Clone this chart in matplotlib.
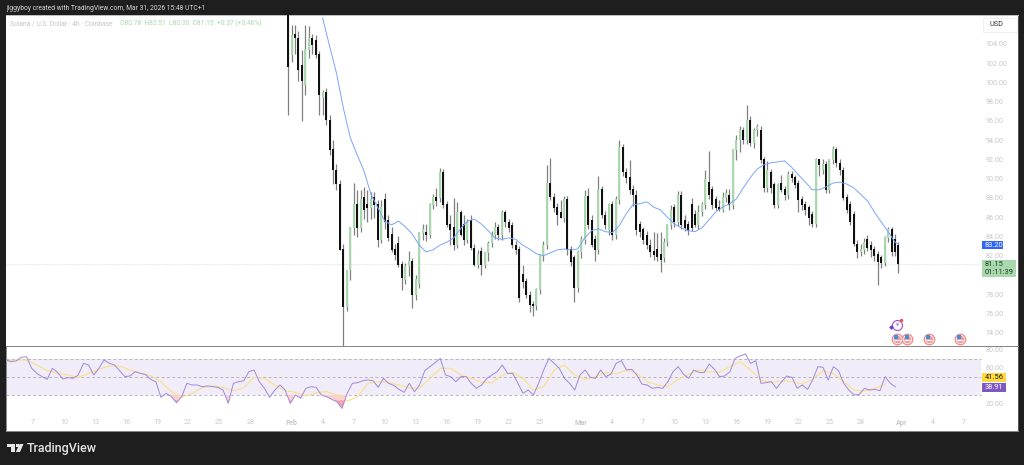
import pandas as pd
import numpy as np
import matplotlib
matplotlib.use('agg')
import matplotlib.pyplot as plt
from matplotlib.patches import Polygon, Rectangle

plt.rcParams['font.family'] = ['Roboto', 'DejaVu Sans']

# price bars at 8h steps
bar_open = [
    107.5, 102.9, 105.0, 104.6, 101.8, 99.7, 103.4, 104.6, 104.4, 102.9,
    98.4, 99.0, 96.1, 93.0, 90.9, 89.4, 82.6, 76.7, 80.5, 84.9,
    87.3, 84.9, 88.1, 87.3, 87.0, 88.1, 87.3, 83.65, 87.8, 85.7,
    84.2, 82.6, 83.3, 81.05, 79.5, 80.9, 81.4, 77.9, 79.1, 84.4,
    84.4, 84.15, 87.3, 88.0, 88.0, 90.7, 87.3, 85.2, 84.9, 83.1,
    86.5, 85.2, 83.65, 85.7, 82.8, 81.05, 82.4, 81.05, 82.3, 83.3,
    84.15, 84.9, 84.15, 86.5, 85.5, 85.1, 83.1, 82.6, 80.0, 79.3,
    77.9, 76.9, 76.8, 78.45, 82.1, 83.1, 89.55, 88.1, 87.0, 86.5,
    85.9, 87.8, 82.6, 81.8, 78.65, 82.4, 83.65, 88.2, 85.7, 83.65,
    82.6, 88.85, 86.2, 84.7, 87.3, 84.15, 87.8, 93.2, 90.7, 90.1,
    88.85, 88.3, 85.2, 84.7, 84.15, 83.1, 82.4, 82.6, 82.1, 81.77,
    83.4, 85.2, 86.97, 85.5, 88.3, 85.7, 85.2, 87.3, 86.25, 85.2,
    86.5, 87.3, 89.65, 88.85, 87.8, 87.0, 86.75, 88.0, 88.3, 87.3,
    93.0, 94.0, 95.05, 94.0, 96.1, 93.7, 95.05, 95.05, 91.95, 89.0,
    90.7, 89.35, 87.3, 89.55, 88.85, 88.3, 90.4, 90.1, 89.55, 87.8,
    87.3, 86.97, 86.25, 85.3, 91.95, 90.9, 91.45, 88.85, 91.95, 93.0,
    91.6, 90.9, 88.0, 87.3, 86.25, 83.2, 82.4, 82.6, 83.65, 83.1,
    82.6, 82.1, 81.77, 81.2, 83.85, 84.7, 83.65, 83.1,
]
bar_high = [
    108.0, 106.0, 106.0, 105.3, 103.4, 106.0, 105.9, 105.0, 104.9, 103.3,
    99.2, 99.4, 96.6, 94.0, 91.5, 89.9, 83.2, 80.5, 85.0, 89.6,
    88.8, 88.8, 89.1, 88.8, 88.6, 88.6, 87.8, 87.8, 88.5, 86.2,
    85.0, 83.2, 84.0, 81.5, 81.2, 82.5, 81.8, 80.0, 84.5, 85.3,
    85.3, 87.5, 88.4, 89.0, 91.1, 91.0, 87.7, 86.2, 88.0, 87.6,
    86.8, 86.2, 85.8, 86.2, 83.2, 82.6, 82.9, 82.4, 83.5, 84.6,
    85.5, 85.3, 86.8, 86.8, 85.8, 85.5, 83.5, 83.0, 81.0, 79.7,
    78.3, 77.3, 78.6, 82.1, 83.5, 91.4, 92.2, 88.5, 87.5, 87.8,
    88.2, 88.2, 83.0, 82.1, 82.6, 84.0, 88.8, 89.0, 86.2, 84.2,
    90.3, 89.2, 86.6, 87.5, 87.7, 88.2, 94.0, 93.6, 91.1, 91.9,
    89.3, 88.8, 85.6, 85.0, 84.6, 83.7, 84.5, 84.4, 84.5, 83.8,
    85.2, 87.3, 87.4, 88.7, 88.7, 86.2, 85.6, 88.0, 86.8, 87.3,
    87.6, 90.9, 92.9, 89.2, 88.2, 87.8, 88.6, 88.9, 88.9, 93.1,
    94.5, 95.5, 95.4, 97.7, 96.5, 95.3, 95.7, 95.5, 92.3, 91.8,
    91.0, 89.7, 89.6, 90.4, 89.2, 90.8, 90.8, 90.4, 89.9, 88.2,
    87.7, 87.3, 86.6, 92.2, 92.0, 92.0, 91.8, 92.1, 93.4, 93.3,
    92.0, 91.2, 88.4, 87.7, 86.6, 83.6, 83.2, 83.8, 84.2, 83.5,
    83.0, 82.5, 82.1, 84.0, 85.0, 85.0, 84.3, 83.4,
]
bar_low = [
    96.6, 102.1, 103.0, 100.2, 96.0, 98.7, 102.5, 103.0, 102.5, 96.6,
    96.6, 95.6, 92.5, 89.4, 88.8, 82.6, 72.6, 76.3, 79.5, 84.2,
    83.9, 84.5, 85.8, 85.5, 85.8, 85.9, 82.9, 83.3, 84.8, 83.5,
    82.4, 81.6, 80.8, 78.4, 79.1, 79.9, 76.6, 77.4, 78.6, 83.6,
    83.5, 83.8, 86.9, 87.2, 87.6, 87.0, 85.0, 83.1, 82.6, 82.8,
    84.0, 83.1, 83.3, 82.6, 80.9, 80.7, 80.0, 80.7, 81.4, 82.9,
    83.7, 83.6, 83.6, 85.0, 84.5, 82.8, 82.2, 77.2, 78.6, 77.6,
    76.2, 75.7, 76.4, 78.0, 81.5, 82.7, 87.8, 86.5, 85.2, 85.9,
    85.5, 82.1, 80.9, 77.2, 78.2, 81.8, 83.2, 84.8, 82.9, 81.5,
    82.2, 85.9, 84.8, 84.2, 83.6, 83.7, 87.4, 90.3, 89.6, 88.4,
    87.2, 84.2, 83.9, 83.2, 82.7, 81.9, 81.6, 81.5, 80.3, 81.3,
    83.0, 84.8, 85.0, 85.1, 84.8, 84.6, 84.2, 84.6, 85.0, 84.8,
    86.1, 86.9, 87.9, 86.9, 86.7, 86.6, 86.5, 87.6, 86.8, 86.9,
    91.9, 92.8, 93.6, 93.6, 93.4, 93.2, 94.4, 91.6, 88.6, 88.6,
    88.5, 87.0, 87.0, 88.6, 87.8, 87.9, 89.7, 89.0, 86.5, 86.7,
    86.2, 85.2, 85.0, 85.0, 90.3, 90.5, 88.5, 88.5, 91.5, 91.2,
    90.4, 87.8, 86.4, 85.2, 83.0, 81.8, 82.0, 82.2, 82.5, 81.9,
    81.5, 78.95, 80.7, 80.9, 83.4, 82.0, 82.0, 80.2,
]
bar_close = [
    101.6, 104.9, 104.6, 101.3, 100.2, 103.4, 104.6, 103.9, 102.85, 98.7,
    99.0, 96.1, 93.0, 90.9, 89.4, 82.6, 76.7, 80.5, 84.9, 87.3,
    84.9, 87.8, 86.75, 87.0, 87.8, 87.3, 83.65, 87.0, 85.5, 83.85,
    82.6, 82.1, 81.05, 79.7, 80.9, 81.4, 77.9, 79.5, 84.4, 84.7,
    84.15, 87.3, 88.0, 87.7, 90.7, 87.3, 85.2, 84.7, 83.1, 86.5,
    84.15, 83.65, 85.5, 82.8, 81.05, 82.1, 81.05, 82.3, 83.3, 84.15,
    84.9, 84.15, 86.5, 85.5, 84.9, 83.1, 82.6, 77.6, 79.3, 77.9,
    76.9, 76.8, 78.45, 82.1, 83.1, 89.55, 88.1, 87.0, 86.2, 85.9,
    87.8, 82.6, 81.35, 78.65, 82.4, 83.65, 88.2, 85.2, 83.1, 82.6,
    88.85, 86.2, 85.2, 87.3, 84.15, 87.8, 93.2, 90.7, 90.1, 88.85,
    88.3, 84.7, 84.5, 83.65, 83.1, 82.4, 82.1, 81.9, 81.55, 83.4,
    85.2, 86.75, 85.5, 88.3, 85.2, 84.9, 84.6, 84.9, 85.2, 86.5,
    87.3, 89.9, 88.3, 87.3, 87.0, 86.8, 88.0, 88.5, 87.3, 93.0,
    94.0, 95.05, 94.0, 96.1, 93.7, 95.05, 95.4, 91.95, 89.0, 90.9,
    89.0, 87.3, 89.35, 88.85, 88.3, 90.4, 90.1, 89.35, 87.8, 87.3,
    86.75, 85.9, 85.3, 91.95, 91.45, 91.45, 88.85, 91.95, 93.0, 91.6,
    90.9, 88.0, 86.75, 85.5, 83.2, 82.4, 82.6, 83.4, 82.8, 82.6,
    82.0, 81.35, 81.2, 83.85, 84.7, 82.4, 82.4, 81.15,
]

# blue moving average, one value every second bar plus the last one
ema_values = [
    106.7, 103.8, 101.0, 97.35, 94.3, 92.5, 90.8, 88.4, 87.0, 85.6,
    85.2, 85.6, 85.0, 84.25, 83.1, 82.4, 82.6, 83.1, 83.4, 83.85,
    84.8, 85.6, 85.8, 85.3, 84.6, 83.85, 83.7, 83.85, 83.7, 83.1,
    82.7, 82.2, 82.0, 82.3, 82.6, 82.7, 82.6, 82.7, 83.85, 84.6,
    84.8, 84.5, 84.4, 85.1, 86.35, 87.3, 87.4, 87.6, 87.05, 86.75,
    86.0, 85.3, 84.9, 84.6, 84.5, 84.9, 85.7, 86.55, 87.05, 87.4,
    87.9, 89.05, 90.1, 91.0, 91.45, 91.65, 91.75, 91.85, 91.2, 90.4,
    89.65, 88.85, 88.85, 89.15, 89.55, 89.65, 89.45, 89.05, 88.4, 87.7,
    86.55, 85.5, 84.5, 83.4, 83.2,
]

# RSI at 12h steps
rsi_values = [
    68.6, 66.7, 67.5, 71.5, 72.2, 59.4, 53.8, 50.2, 47.2, 59.4,
    54.9, 47.6, 49.1, 48.3, 52.0, 64.9, 63.0, 52.0, 59.4, 68.6,
    64.9, 63.0, 56.8, 50.2, 50.9, 55.7, 53.8, 52.7, 47.2, 44.6,
    27.3, 31.8, 28.1, 21.4, 28.1, 42.8, 41.0, 41.0, 39.1, 39.9,
    39.1, 38.4, 35.4, 20.7, 42.8, 44.6, 45.7, 55.7, 57.5, 44.6,
    37.3, 27.3, 35.4, 41.0, 35.4, 20.7, 29.9, 26.2, 37.3, 39.1,
    38.4, 29.9, 28.1, 25.1, 22.6, 15.2, 31.8,
    42.8, 43.5, 45.7, 46.5, 45.7, 38.4, 48.3, 42.8, 40.6, 36.2,
    32.9, 42.8, 33.6, 41.0, 56.8, 61.2, 65.6, 70.4, 52.0, 50.2,
    44.6, 50.2, 50.2, 42.8, 37.3, 41.0, 48.3, 52.0, 55.7, 63.0,
    53.8, 53.8, 42.8, 31.8, 35.4, 29.9, 42.8, 57.5, 70.4, 64.9,
    59.4, 48.3, 42.8, 35.4, 52.0, 57.5, 49.4, 48.3, 57.5, 50.2,
    53.1, 64.9, 67.8, 57.5, 58.3, 52.0, 42.0, 41.0, 37.3, 38.4,
    37.3, 44.6, 55.7, 61.2, 53.1, 48.3,
    57.5, 54.9, 54.6, 64.1, 58.3, 50.2, 50.9, 55.7, 70.4, 73.0,
    75.2, 64.9, 67.8, 42.8, 43.5, 44.6, 37.3, 44.6, 50.9, 49.4,
    37.3, 41.0, 36.2, 46.5, 61.2, 60.5, 46.5, 61.2, 56.8, 42.8,
    35.4, 29.9, 30.6, 37.3, 35.4, 36.2, 34.7, 50.2, 42.8, 38.91,
]

# yellow RSI average, one value per day
rsi_ma_values = [
    67.8, 68.5, 68.5, 63.0, 56.8, 53.8, 52.0, 49.4, 53.8, 58.3,
    61.9, 61.9, 57.5, 53.8, 51.3, 44.6, 33.6, 27.3, 31.8, 38.0,
    39.9, 38.4, 34.7, 38.0, 49.4, 48.3, 41.0, 34.7, 32.9, 28.8,
    32.5, 33.6, 29.9, 23.3,
    28.1, 42.8, 44.6, 43.9, 41.0, 38.0, 37.3, 48.3, 59.4, 59.4,
    52.0, 48.3, 43.9, 43.5, 52.0, 54.9, 48.3, 35.4, 39.1, 57.5,
    63.0, 52.0, 47.2, 50.2, 54.9, 53.1, 57.5, 53.8, 44.6, 41.0,
    39.1, 47.2, 52.7,
    57.5, 55.7, 54.9, 61.2, 66.7, 57.5, 46.5, 43.5, 45.7, 44.6,
    42.0, 47.2, 56.8, 53.8, 44.6, 35.4, 34.3, 37.3, 41.56,
]

price_ticks = [74, 76, 78, 80, 82, 84, 86, 88, 90, 92, 94, 96, 98, 100, 102, 104]
rsi_ticks = [20, 60, 80]
x_tick_dates = ['2026-01-07', '2026-01-10', '2026-01-13', '2026-01-16', '2026-01-19',
                '2026-01-22', '2026-01-25', '2026-01-28', '2026-02-01', '2026-02-04',
                '2026-02-07', '2026-02-10', '2026-02-13', '2026-02-16', '2026-02-19',
                '2026-02-22', '2026-02-25', '2026-03-01', '2026-03-04', '2026-03-07',
                '2026-03-10', '2026-03-13', '2026-03-16', '2026-03-19', '2026-03-22',
                '2026-03-25', '2026-03-28', '2026-04-01', '2026-04-04', '2026-04-07']
x_tick_labels = ['7', '10', '13', '16', '19', '22', '25', '28', 'Feb', '4', '7', '10', '13', '16',
                 '19', '22', '25', 'Mar', '4', '7', '10', '13', '16', '19', '22', '25', '28',
                 'Apr', '4', '7']
event_dates = ['2026-03-31 12:00', '2026-04-01 13:00', '2026-04-03 14:00', '2026-04-06 14:00']

last_price = 81.15
ema_last = 83.20
rsi_last = 38.91
rsi_ma_last = 41.56

W, H = 1024, 465
DARK = '#1e1e1e'
UP = '#a8d8ac'
TICK = '#c8c8c8'
PX_PER_DAY = 10.344

bar_dates = pd.date_range('2026-01-31 16:00', periods=len(bar_close), freq='8h')
ema_dates = list(bar_dates[10:178:2][:len(ema_values) - 1]) + [bar_dates[-1]]
rsi_dates = pd.date_range('2026-01-04 09:00', periods=len(rsi_values), freq='12h')
ma_dates = pd.date_range('2026-01-04 09:00', periods=len(rsi_ma_values), freq='1D')

fig = plt.figure(figsize=(W / 100, H / 100), dpi=100, facecolor=DARK)


def px_axes(left, top, right, bottom):
    return fig.add_axes([left / W, 1 - bottom / H, (right - left) / W, (bottom - top) / H])


ax = px_axes(6, 15, 1018, 346)
ax2 = px_axes(6, 347, 1018, 431)

x_left = pd.Timestamp('2026-01-07') - pd.Timedelta(days=27 / PX_PER_DAY)
x_right = x_left + pd.Timedelta(days=1012 / PX_PER_DAY)
plot_frac = (981 - 6) / 1012

# candles
o = np.array(bar_open)
c = np.array(bar_close)
colors = ['#111111' if c[i] < o[i] else UP for i in range(len(c))]
ax.vlines(bar_dates, bar_low, bar_high, colors='#808080', linewidth=0.9, zorder=2)
ax.bar(bar_dates, np.abs(c - o) + 0.05, bottom=np.minimum(o, c), width=2.0 / PX_PER_DAY,
       color=colors, linewidth=0, zorder=3)
ax.plot(ema_dates, ema_values, color='#7aa5fb', linewidth=0.7, zorder=4)
ax.axhline(last_price, xmax=plot_frac, color='#cfe8d0', linewidth=0.6, linestyle=(0, (1.5, 1.5)), zorder=1)

ax.set_xlim(x_left, x_right)
ax.set_ylim(72.62, 107.01)
ax.set_xticks([])
ax.yaxis.tick_right()
ax.set_yticks(price_ticks)
ax.set_yticklabels(['%.2f' % p for p in price_ticks])
ax.tick_params(axis='y', length=0, pad=-23.5, labelsize=5.2, labelcolor=TICK)

# events along the bottom of the price pane
tr = ax.get_xaxis_transform()
ev = pd.to_datetime(event_dates)
ev_y = [0.021] * len(ev)
ax.scatter(ev, ev_y, s=72, color='#f08a8a', transform=tr, zorder=5, clip_on=False, linewidth=0)
ax.scatter(ev, ev_y, s=44, color='white', transform=tr, zorder=6, clip_on=False, linewidth=0)
ax.scatter(ev, ev_y, s=30, color='#f29a9a', transform=tr, zorder=7, clip_on=False, linewidth=0)
ax.scatter(ev, [0.017] * len(ev), s=24, color='white', marker='_', transform=tr, zorder=8, linewidth=0.8)
ax.scatter(ev - pd.Timedelta(hours=2), [0.026] * len(ev), s=11, color='#3f8ee0', marker='s', transform=tr,
           zorder=9, linewidth=0)
ax.scatter(ev[:1], [0.063], s=52, facecolors='white', edgecolors='#a04fd0', linewidth=0.8, transform=tr, zorder=6)
ax.text(ev[0], 0.063, '\u26a1', transform=tr, fontsize=5, color='#8f3fd0', ha='center', va='center',
        family='DejaVu Sans', zorder=7)
ax.scatter(ev[:1] - pd.Timedelta(hours=13), [0.058], s=6, color='#6a3fd8', marker='D', transform=tr, zorder=8, linewidth=0)
ax.scatter(ev[:1] + pd.Timedelta(hours=11), [0.08], s=6, color='#ef4a5a', transform=tr, zorder=8, linewidth=0)

# RSI pane
ax2.axhspan(30, 70, xmax=plot_frac, color='#7e57c2', alpha=0.11, linewidth=0, zorder=1)
for level in [70, 50, 30]:
    ax2.axhline(level, xmax=plot_frac, color='#b8b4c0', linewidth=0.7, linestyle=(0, (3, 2.5)), zorder=2)
rsi = np.array(rsi_values)
ax2.fill_between(rsi_dates, rsi, 30, where=rsi < 30, interpolate=True, color='#fbd0d4', linewidth=0, zorder=2)
ax2.fill_between(rsi_dates, rsi, 24, where=rsi < 24, interpolate=True, color='#f6a3ab', linewidth=0, zorder=2)
ax2.plot(ma_dates, rsi_ma_values, color='#fbdf8a', linewidth=0.8, zorder=3)
ax2.plot(rsi_dates, rsi_values, color='#a189da', linewidth=0.7, zorder=4)

ax2.set_xlim(x_left, x_right)
ax2.set_ylim(-9.8, 82.9)
ax2.set_xticks(pd.to_datetime(x_tick_dates))
ax2.set_xticklabels(x_tick_labels)
ax2.yaxis.tick_right()
ax2.set_yticks(rsi_ticks)
ax2.set_yticklabels(['%.2f' % v for v in rsi_ticks])
ax2.tick_params(axis='y', length=0, pad=-23.5, labelsize=5.2, labelcolor=TICK)
ax2.tick_params(axis='x', length=0, pad=-8.5, labelsize=5.2, labelcolor=TICK)
for lab in ax2.get_xticklabels():
    if lab.get_text() in ('Feb', 'Mar', 'Apr'):
        lab.set_fontweight('bold')

for a in (ax, ax2):
    for s in a.spines.values():
        s.set_color('#8a8a8a')
        s.set_linewidth(0.7)
ax.spines['top'].set_color('#bdbdbd')
ax.spines['left'].set_visible(False)
ax2.spines['top'].set_visible(False)
ax.spines['right'].set_color('#555555')
ax2.spines['right'].set_color('#555555')


def box_label(top_px, bot_px, text, fc, tc, right=1006):
    # coloured tag on the price scale, in pixels of the figure
    fig.add_artist(Rectangle((982 / W, 1 - bot_px / H), (right - 982) / W, (bot_px - top_px) / H,
                             transform=fig.transFigure, facecolor=fc, edgecolor='none', zorder=5))
    fig.text(985 / W, 1 - (top_px + bot_px) / 2 / H, text, color=tc, fontsize=5.4, va='center',
             ha='left', zorder=6, linespacing=1.25)


box_label(241, 249, '%.2f' % ema_last, '#2f66f5', 'white', right=1003)
box_label(260, 277, '%.2f\n01:11:39' % last_price, UP, '#1c3a22', right=1016)
box_label(373, 382, '%.2f' % rsi_ma_last, '#ffd83d', '#222222')
box_label(383, 392, '%.2f' % rsi_last, '#7e57c2', 'white')

# USD button
fig.add_artist(Rectangle((983 / W, 1 - 32 / H), 34 / W, 14 / H, transform=fig.transFigure,
                         facecolor='white', edgecolor='#eeeeee', linewidth=0.6, zorder=5))
fig.text(989 / W, 1 - 25 / H, 'USD', color='#333333', fontsize=5.2, va='center', zorder=6)

# header texts
fig.text(6 / W, 1 - 8 / H, 'jiggyboy created with TradingView.com, Mar 31, 2026 15:48 UTC+1',
         color='#d6d6d6', fontsize=4.85, va='center')
fig.text(10 / W, 1 - 23.5 / H, 'Solana / U.S. Dollar \u00b7 4h \u00b7 Coinbase', color='#c4c4c4', fontsize=4.85, va='center')
fig.text(120 / W, 1 - 23.5 / H, 'O80.78  H82.51  L80.30  C81.15  +0.37 (+0.46%)', color='#a8d8ac',
         fontsize=4.75, va='center')


# TradingView mark
def px(x, y):
    return (x / W, 1 - y / H)


logo = '#e6e6e6'
fig.add_artist(Polygon([px(7, 444), px(15, 444), px(15, 452), px(11, 452), px(11, 447), px(7, 447)],
                       transform=fig.transFigure, facecolor=logo, edgecolor='none'))
fig.add_artist(Polygon([px(19.5, 444), px(23.5, 444), px(20, 452), px(15.8, 452)],
                       transform=fig.transFigure, facecolor=logo, edgecolor='none'))
fig.add_artist(Rectangle(px(15.5, 447), 3 / W, 3 / H, transform=fig.transFigure, facecolor=logo, edgecolor='none'))
fig.text(27 / W, 1 - 448 / H, 'TradingView', color=logo, fontsize=9.0, va='center', fontweight='medium')

fig.savefig('out.png', dpi=100, facecolor=DARK)
